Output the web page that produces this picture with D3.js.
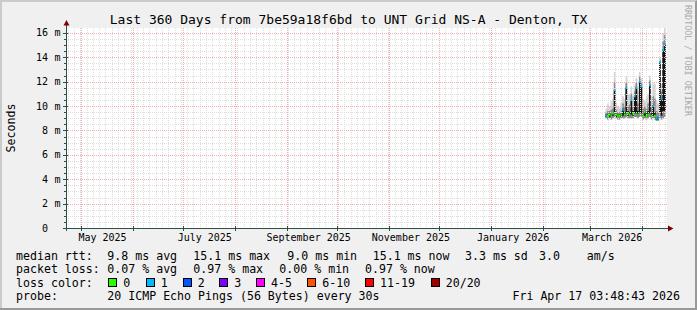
<!DOCTYPE html>
<html>
<head>
<meta charset="utf-8">
<script src="https://cdn.jsdelivr.net/npm/d3@7/dist/d3.min.js"></script>
<style>
  body { margin: 0; background: #f0f0f0; }
  svg { display: block; font-family: "DejaVu Sans Mono", monospace; }
</style>
</head>
<body>
<svg id="chart"></svg>
<script>
// one value per day, first day 2026-03-10 (in ms)
const firstDay = Date.UTC(2026, 2, 10);
const median   = [9.2, 9.2, 9.3, 9.2, 9.4, 11.3, 9.3, 9.2, 9.2, 9.3, 9.7, 9.3, 11.5, 9.4, 9.3, 10.5, 9.4, 10.8,
                  11.5, 9.3, 12.0, 11.6, 9.2, 9.5, 9.2, 9.3, 11.7, 9.2, 10.0, 9.2, 9.0, 9.0, 13.6, 10.6, 14.6, 15.1];
const lostPings = [1, 0, 0, 0, 0, 1, 0, 0, 0, 0, 1, 0, 1, 0, 0, 1, 0, 1,
                   1, 0, 1, 1, 0, 0, 0, 0, 1, 0, 1, 0, 1, 1, 1, 1, 1, 1];
const smokeMin = [9.0, 8.9, 9.0, 8.9, 9.0, 9.1, 9.0, 8.9, 8.9, 9.0, 9.0, 9.0, 9.1, 9.0, 9.0, 9.0, 9.0, 9.1,
                  9.1, 9.0, 9.1, 9.1, 8.9, 9.0, 8.9, 9.0, 9.1, 8.9, 9.0, 8.9, 8.8, 8.8, 9.0, 8.9, 9.0, 9.1];
const smokeMax = [9.8, 10.2, 10.0, 10.4, 10.6, 12.8, 10.3, 10.0, 9.9, 10.3, 10.8, 10.6, 12.4, 10.9, 11.0, 11.6, 10.8, 11.7,
                  12.3, 11.2, 12.8, 12.3, 10.6, 10.4, 10.7, 11.0, 12.5, 10.8, 11.9, 11.8, 10.5, 10.2, 14.0, 11.8, 16.0, 16.4];
const smokeMid = [9.5, 9.6, 9.6, 9.7, 9.8, 12.0, 9.7, 9.5, 9.5, 9.7, 10.2, 9.9, 11.9, 10.0, 10.1, 11.0, 10.0, 11.2,
                  11.9, 10.2, 12.4, 11.9, 9.8, 9.9, 9.8, 10.2, 12.1, 9.9, 10.8, 10.6, 9.6, 9.5, 13.8, 11.2, 15.3, 15.8];
const coreLo   = [9.1, 9.1, 9.1, 9.1, 9.2, 9.4, 9.1, 9.1, 9.1, 9.1, 9.2, 9.2, 9.4, 9.2, 9.2, 9.3, 9.2, 9.4,
                  9.4, 9.2, 9.5, 9.4, 9.1, 9.2, 9.1, 9.2, 9.4, 9.1, 9.2, 9.1, 8.9, 8.9, 9.5, 9.2, 9.6, 9.6];
const coreHi   = [9.3, 9.3, 9.4, 9.3, 9.5, 11.3, 9.4, 9.3, 9.3, 9.4, 9.8, 9.5, 11.5, 9.6, 9.5, 10.5, 9.6, 10.8,
                  11.5, 9.6, 12.0, 11.6, 9.3, 9.6, 9.4, 9.6, 11.7, 9.4, 10.1, 9.5, 9.1, 9.1, 13.6, 10.6, 14.6, 15.1];

const lossLabels = ["0", "1", "2", "3", "4-5", "6-10", "11-19", "20/20"];
const lossLimits = [0, 1, 2, 3, 5, 10, 19, 20];
const lossColors = ["#26ff00", "#00b8ff", "#0059ff", "#7e00ff", "#ff00ff", "#ff5500", "#ff0000", "#a00000"];

const yTicks = [0, 2, 4, 6, 8, 10, 12, 14, 16];
const rttLine  = ["median rtt:", "9.8 ms avg", "15.1 ms max", "9.0 ms min", "15.1 ms now", "3.3 ms sd", "3.0", "am/s"];
const lossLine = ["packet loss:", "0.07 % avg", "0.97 % max", "0.00 % min", "0.97 % now"];
const probeLine = ["probe:", "20 ICMP Echo Pings (56 Bytes) every 30s"];
const stamp = "Fri Apr 17 03:48:43 2026";
const title = "Last 360 Days from 7be59a18f6bd to UNT Grid NS-A - Denton, TX";

const W = 697, H = 310;
const svg = d3.select("#chart").attr("width", W).attr("height", H);

// background + 3d frame
svg.append("rect").attr("width", W).attr("height", H).attr("fill", "#f0f0f0");
svg.append("path").attr("d", `M0,${H} V0 H${W} V2 H2 V${H - 2} H0Z`).attr("fill", "#cbcbcb");
svg.append("path").attr("d", `M${W},0 V${H} H0 V${H - 2} H${W - 2} V2 Z`).attr("fill", "#999999");

const x = d3.scaleUtc()
  .domain([Date.UTC(2025, 3, 22, 6), Date.UTC(2026, 3, 15, 18)])
  .range([66, 667]);
const y = d3.scaleLinear().domain([0, 16.4]).range([228, 28]);

svg.append("rect").attr("x", 66).attr("y", 28).attr("width", 601).attr("height", 200).attr("fill", "#fff");

// rows built from the arrays, plus a closing row so the last step gets its width
const rows = median.map((m, i) => ({
  t: new Date(firstDay + i * 864e5), m, loss: lostPings[i],
  lo: smokeMin[i], hi: smokeMax[i], mid: smokeMid[i], c0: coreLo[i], c1: coreHi[i]
}));
rows.push(Object.assign({}, rows[rows.length - 1], { t: new Date(firstDay + rows.length * 864e5) }));

const band = (a, b) => d3.area().curve(d3.curveStepAfter)
  .x(d => x(d.t)).y0(d => y(d[a])).y1(d => y(d[b]));

const plot = svg.append("g");
plot.append("path").datum(rows).attr("fill", "#d4d4d4").attr("d", band("lo", "hi"));
plot.append("path").datum(rows).attr("fill", "#8c8c8c").attr("d", band("lo", "mid"));
plot.append("path").datum(rows).attr("fill", "#141414").attr("d", band("c0", "c1"));

// grid (drawn over the smoke, like rrdtool)
const grid = svg.append("g").attr("stroke-dasharray", "1,1").attr("fill", "none");
const [t0, t1] = x.domain().map(Number);
const P = 90 * 3600e3;
const minorX = d3.range(Math.ceil(t0 / P) * P, t1, P);
grid.selectAll(".gx").data(minorX).join("line")
  .attr("x1", d => Math.round(x(d)) + 0.5).attr("x2", d => Math.round(x(d)) + 0.5)
  .attr("y1", 28).attr("y2", 228).attr("stroke", "#dedede");
const minorY = d3.range(0.5, 16.4, 0.5).filter(v => v % 2 !== 0);
grid.selectAll(".gy").data(minorY).join("line")
  .attr("x1", 66).attr("x2", 667)
  .attr("y1", d => Math.round(y(d)) + 0.5).attr("y2", d => Math.round(y(d)) + 0.5)
  .attr("stroke", "#dedede");
const months = d3.utcMonth.range(x.domain()[0], x.domain()[1]);
grid.selectAll(".mx").data(months).join("line")
  .attr("x1", d => Math.round(x(d)) + 0.5).attr("x2", d => Math.round(x(d)) + 0.5)
  .attr("y1", 28).attr("y2", 228).attr("stroke", "#f6aaaa");
grid.selectAll(".my").data(yTicks.filter(v => v > 0)).join("line")
  .attr("x1", 66).attr("x2", 667)
  .attr("y1", d => Math.round(y(d)) + 0.5).attr("y2", d => Math.round(y(d)) + 0.5)
  .attr("stroke", "#f6aaaa");

// median: one short horizontal stroke per day, in its loss colour
const bucket = l => lossLimits.findIndex(v => l <= v);
svg.append("g").selectAll("line").data(rows.slice(0, -1)).join("line")
  .attr("x1", d => x(d.t)).attr("x2", (d, i) => x(rows[i + 1].t))
  .attr("y1", d => y(d.m)).attr("y2", d => y(d.m))
  .attr("stroke", d => lossColors[bucket(d.loss)]).attr("stroke-width", 2.2);

// axes
const axisCol = "#2c4d43";
svg.append("line").attr("x1", 63).attr("x2", 669).attr("y1", 228.5).attr("y2", 228.5).attr("stroke", axisCol);
svg.append("line").attr("x1", 66.5).attr("x2", 66.5).attr("y1", 231).attr("y2", 25).attr("stroke", axisCol);
svg.append("path").attr("d", "M668,225.5 L673.5,228.5 L668,231.5Z").attr("fill", "#7f0000");
svg.append("path").attr("d", "M63.5,25.5 L66.5,20 L69.5,25.5Z").attr("fill", "#7f0000");
svg.selectAll(".yt").data(minorY).join("line")
  .attr("x1", 64).attr("x2", 66).attr("y1", d => Math.round(y(d)) + 0.5).attr("y2", d => Math.round(y(d)) + 0.5)
  .attr("stroke", axisCol);
svg.selectAll(".yT").data(yTicks).join("line")
  .attr("x1", 63).attr("x2", 68).attr("y1", d => Math.round(y(d)) + 0.5).attr("y2", d => Math.round(y(d)) + 0.5)
  .attr("stroke", axisCol);
svg.selectAll(".xT").data(months).join("line")
  .attr("x1", d => Math.round(x(d)) + 0.5).attr("x2", d => Math.round(x(d)) + 0.5)
  .attr("y1", 226).attr("y2", 231).attr("stroke", axisCol);

// y labels: number and unit in fixed columns
svg.selectAll(".yl").data(yTicks).join("text")
  .attr("x", 48).attr("y", d => y(d) + 3.6).attr("text-anchor", "end")
  .attr("font-size", 10).attr("fill", "#000").text(d => d);
svg.selectAll(".yu").data(yTicks.filter(v => v > 0)).join("text")
  .attr("x", 54.5).attr("y", d => y(d) + 3.6)
  .attr("font-size", 10).attr("fill", "#000").text("m");

// x labels
svg.selectAll(".xl").data(months.filter(d => d.getUTCMonth() % 2 === 0)).join("text")
  .attr("x", d => x(d3.utcDay.offset(d, 13))).attr("y", 240.6).attr("text-anchor", "middle")
  .attr("font-size", 10).attr("fill", "#000").text(d3.utcFormat("%B %Y"));

// title, axis title, watermark
svg.append("text").attr("x", W / 2).attr("y", 24).attr("text-anchor", "middle")
  .attr("font-size", 13).attr("fill", "#000").text(title);
svg.append("text").attr("transform", `translate(14.5,${y(8.2)}) rotate(-90)`).attr("text-anchor", "middle")
  .attr("font-size", 11.6).attr("fill", "#000").text("Seconds");
svg.append("text").attr("transform", "translate(685,5) rotate(90)")
  .attr("font-size", 8.4).attr("fill", "#a8a8a8").text("RRDTOOL / TOBI OETIKER");

// legend
const leg = svg.append("g").attr("font-size", 11.6).attr("fill", "#000");
const rttX = [16, 107.3, 193.3, 287.3, 372.7, 465, 539, 586.7];
const lossX = [16, 107.3, 193.3, 279.3, 365];
leg.selectAll(".r1").data(rttLine).join("text").attr("x", (d, i) => rttX[i]).attr("y", 259.5).text(d => d);
leg.selectAll(".r2").data(lossLine).join("text").attr("x", (d, i) => lossX[i]).attr("y", 273).text(d => d);
leg.append("text").attr("x", 16).attr("y", 286.5).text("loss color:");
const boxX = [108.3, 145.7, 182.7, 219.3, 256, 307.3, 365, 430.7];
leg.selectAll(".lb").data(lossColors).join("rect")
  .attr("x", (d, i) => Math.round(boxX[i]) + 0.5).attr("y", 278.5).attr("width", 8).attr("height", 8)
  .attr("fill", d => d).attr("stroke", "#000");
leg.selectAll(".ll").data(lossLabels).join("text")
  .attr("x", (d, i) => boxX[i] + 15).attr("y", 286.5).text(d => d);
leg.selectAll(".r4").data(probeLine).join("text").attr("x", (d, i) => [16, 107.3][i]).attr("y", 300).text(d => d);
leg.append("text").attr("x", 680).attr("y", 300).attr("text-anchor", "end").text(stamp);
</script>
</body>
</html>
